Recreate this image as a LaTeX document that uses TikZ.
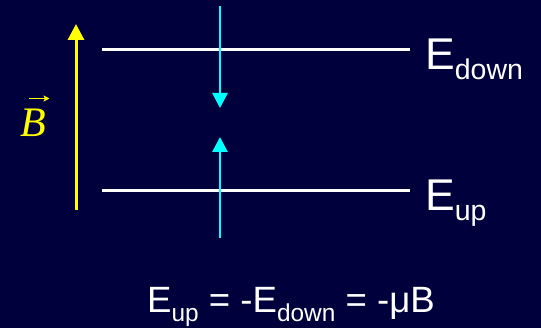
\documentclass[tikz,border=0pt]{standalone}
\usepackage{fontspec}
\setmainfont{Liberation Sans}
\newfontfamily\serifB{Liberation Serif}
\usetikzlibrary{arrows.meta}
\definecolor{bgnavy}{RGB}{0,0,60}
\definecolor{cyanA}{RGB}{0,255,255}
\definecolor{yellowA}{RGB}{255,255,0}
\begin{document}
\begin{tikzpicture}[x=1pt,y=-1pt,
  level/.style={draw=white,line width=3pt},
  fieldarrow/.style={draw=yellowA,line width=3pt,-{Triangle[width=16pt,length=16pt]}},
  spinarrow/.style={draw=cyanA,line width=2.7pt,-{Triangle[width=15pt,length=15pt]}},
  vecarrow/.style={draw=yellowA,line width=1.3pt,-{Stealth[width=6pt,length=6pt,inset=1.5pt]}},
  lbl/.style={text=white,inner sep=0pt,anchor=base west},
  big/.style={font=\fontsize{44.5}{50}\selectfont},
  eqn/.style={font=\fontsize{36.6}{42}\selectfont}]
\fill[bgnavy] (0,0) rectangle (541,328);
\useasboundingbox (0,0) rectangle (541,328);
% coordinates
\coordinate (bbot) at (76,210);
\coordinate (btop) at (76,24);
\coordinate (l1a) at (102,50);
\coordinate (l1b) at (410,50);
\coordinate (l2a) at (102,191);
\coordinate (l2b) at (410,191);
\coordinate (dtop) at (220,6);
\coordinate (dtip) at (220,108);
\coordinate (ubot) at (220,238);
\coordinate (utip) at (220,137);
\coordinate (va) at (29,98.5);
\coordinate (vb) at (49.5,98.5);
% levels
\draw[level] (l1a) -- (l1b);
\draw[level] (l2a) -- (l2b);
% arrows
\draw[fieldarrow] (bbot) -- (btop);
\draw[spinarrow] (dtop) -- (dtip);
\draw[spinarrow] (ubot) -- (utip);
% labels
\node[lbl,big] (edown) at (425,70) {E\raisebox{-10pt}{\fontsize{28.5}{30}\selectfont down}};
\node[lbl,big] (eup) at (425,211) {E\raisebox{-10pt}{\fontsize{28.5}{30}\selectfont up}};
\node[inner sep=0pt,anchor=base west,text=yellowA,font=\fontsize{42}{46}\serifB\itshape] (bvec) at (20,137) {B};
\draw[vecarrow] (va) -- (vb);
\node[lbl,eqn] (eq) at (147,313) {E\raisebox{-9pt}{\fontsize{24.4}{26}\selectfont up} = -E\raisebox{-9pt}{\fontsize{24.4}{26}\selectfont down} = -μB};
\end{tikzpicture}
\end{document}
